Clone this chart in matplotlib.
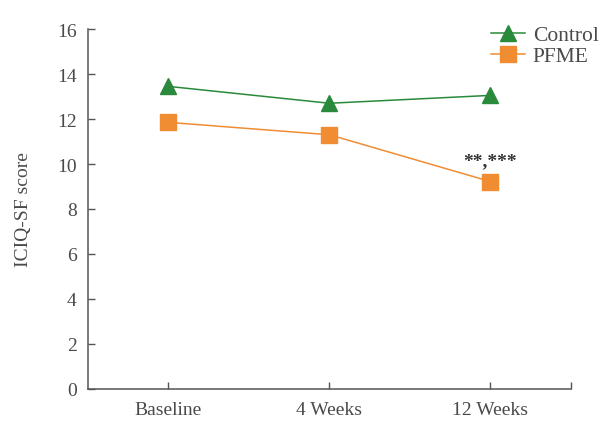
import matplotlib
matplotlib.use("Agg")
import matplotlib.pyplot as plt

# data
timepoints = ["Baseline", "4 Weeks", "12 Weeks"]
control = [13.45, 12.7, 13.05]
pfme = [11.85, 11.3, 9.22]
yticks = [0, 2, 4, 6, 8, 10, 12, 14, 16]
sig_label = "**,***"

plt.rcParams['font.family'] = ['Liberation Serif', 'DejaVu Serif']
text_color = '#4a4a4a'
green = '#2a8a3c'
orange = '#f08d33'

fig = plt.figure(figsize=(6.08, 4.27), dpi=100)
ax = fig.add_axes([0.1447, 0.0867, 0.7943, 0.843])

x = list(range(len(timepoints)))
ax.plot(x, control, color=green, lw=1.1, marker='^', markersize=11, label='Control', clip_on=False)
ax.plot(x, pfme, color=orange, lw=1.1, marker='s', markersize=11, label='PFME', clip_on=False)

ax.text(x[2], pfme[2] + 0.55, sig_label, ha='center', va='bottom', fontsize=14,
        color='#333333', fontweight='bold')

ax.set_xlim(-0.5, 2.5)
ax.set_ylim(0, 16)
ax.set_xticks(x + [2.5])
ax.set_xticklabels(timepoints + [''])
ax.set_yticks(yticks)
ax.tick_params(direction='in', length=5, width=1, colors='#555555', labelcolor=text_color, labelsize=14)
ax.tick_params(axis='x', pad=9)
ax.tick_params(axis='y', pad=8)
for s in ['top', 'right']:
    ax.spines[s].set_visible(False)
for s in ['left', 'bottom']:
    ax.spines[s].set_color('#555555')
    ax.spines[s].set_linewidth(1.1)

ax.set_ylabel('ICIQ-SF score', fontsize=14, color=text_color, labelpad=18)

leg = ax.legend(loc='upper right', bbox_to_anchor=(1.075, 1.035), frameon=False, fontsize=15.5,
                handlelength=1.6, handletextpad=0.35, labelspacing=0.05, borderaxespad=0)
for t in leg.get_texts():
    t.set_color(text_color)

fig.savefig('out.png', dpi=100)
